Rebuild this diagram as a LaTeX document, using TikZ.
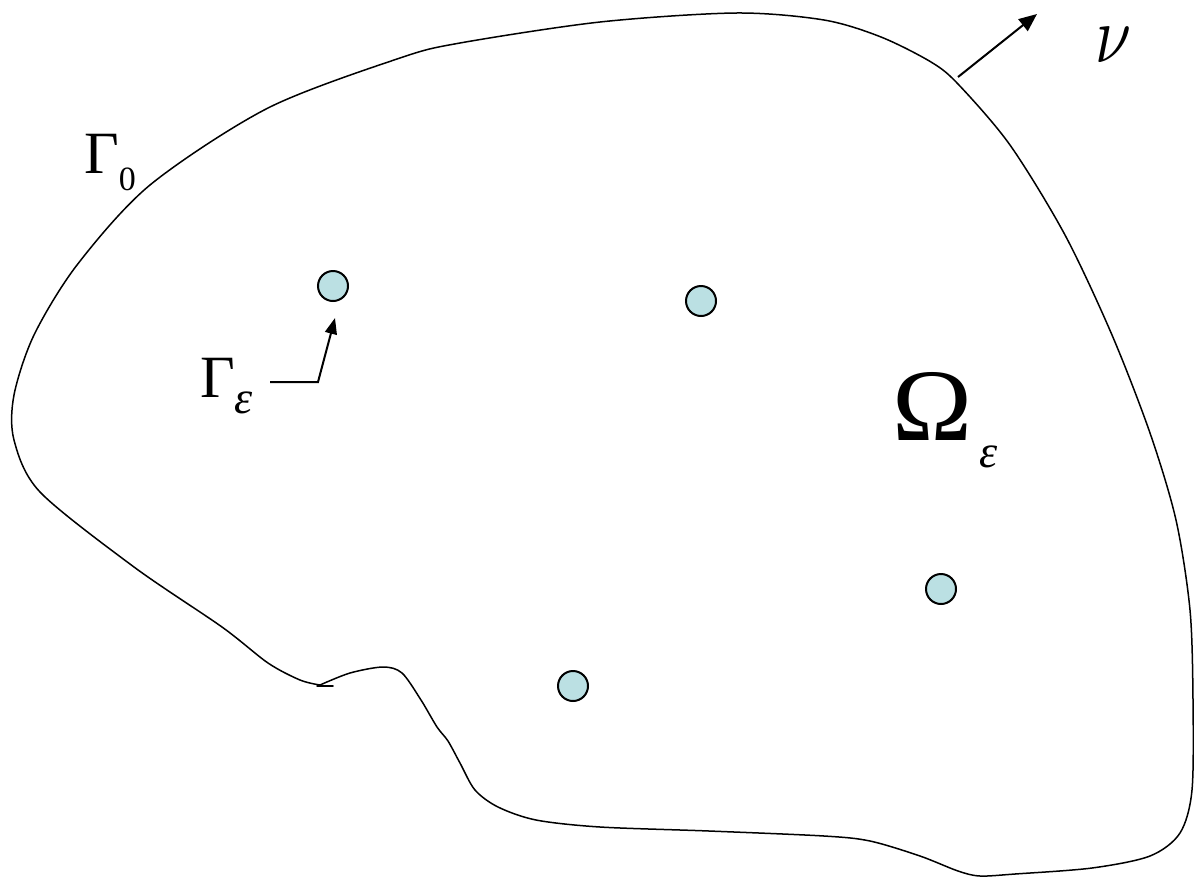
\documentclass[tikz,border=0pt]{standalone}
\usepackage{fontspec}
\setmainfont{Liberation Serif}
\usetikzlibrary{arrows.meta}
\definecolor{holefill}{RGB}{187,224,227}
\begin{document}
\begin{tikzpicture}[x=1pt,y=-1pt,
  boundary/.style={line width=1.5pt, line join=round, line cap=round},
  hole/.style={circle, draw, line width=2pt, fill=holefill, minimum size=30pt, inner sep=0pt},
  pointer/.style={line width=2pt, -{Triangle[length=18pt,width=15pt]}},
  leader/.style={line width=2pt, -{Triangle[length=16pt,width=12pt]}},
  lbl/.style={inner sep=0pt, anchor=base west}]
\useasboundingbox (0,0) rectangle (1194,879);
% outer boundary Gamma_0
\draw[boundary] plot[smooth, tension=0.5] coordinates {
 (320,685) (350,673) (383,667) (402,673) (421,700) (437,727) (448,741)
 (460,763) (475,790) (498,807) (536,820) (600,827) (709,831) (824,836)
 (870,841) (920,856) (958,871) (980,876) (1015,874) (1092,868) (1150,856)
 (1180,833) (1192,790) (1193,700) (1190,610) (1176,520) (1150,433)
 (1112,335) (1065,235) (1010,145) (958,84) (931,62) (881,37) (824,20)
 (736,13) (600,22) (460,43) (400,58) (268,108) (150,185) (77,265)
 (34,335) (14,395) (14,440) (40,492) (134,567) (222,627) (268,663)
 (300,680) (320,685)};
\draw[boundary] (317,686) -- (333,686);
% holes
\node[hole] (h1) at (333,286) {};
\node[hole] (h2) at (701,301) {};
\node[hole] (h3) at (573,686) {};
\node[hole] (h4) at (941,589) {};
% labels
\node[lbl] (g0) at (84,173) {\fontsize{60}{60}\selectfont Γ\raisebox{-17pt}{\fontsize{34}{34}\selectfont 0}};
\node[lbl] (ge) at (200,397) {\fontsize{60}{60}\selectfont Γ\raisebox{-16pt}{\fontsize{46}{46}\selectfont\itshape ε}};
\node[lbl] (om) at (892,440) {\resizebox{80pt}{68pt}{Ω}\kern7pt\raisebox{-27pt}{\fontsize{46}{46}\selectfont\itshape ε}};
\node[lbl] (nu) at (1095,62) {\resizebox{36pt}{35pt}{$\nu$}};
% normal vector
\coordinate (nstart) at (958,77);
\coordinate (ntip) at (1037,14);
\draw[pointer] (nstart) -- (ntip);
% leader to hole boundary
\coordinate (gs) at (270,382);
\coordinate (gk) at (318,382);
\coordinate (gtip) at (335,318);
\draw[leader] (gs) -- (gk) -- (gtip);
\end{tikzpicture}
\end{document}
